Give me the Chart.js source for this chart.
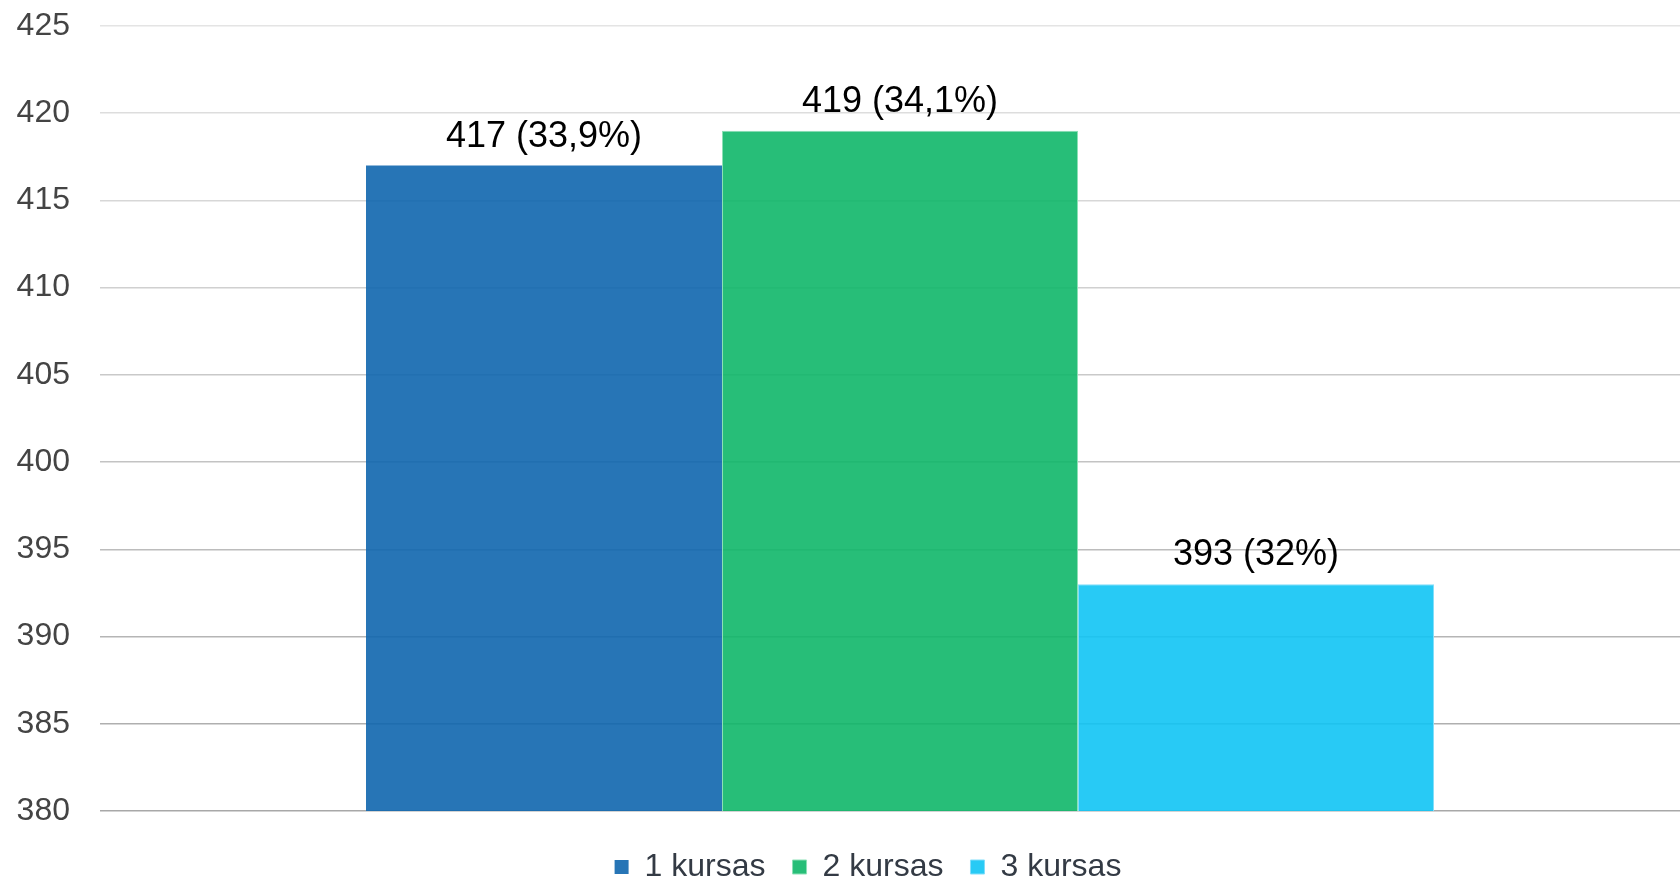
<!DOCTYPE html>
<html>
<head>
<meta charset="utf-8">
<script src="https://cdn.jsdelivr.net/npm/chart.js@4.4.1/dist/chart.umd.min.js"></script>
<style>
  html, body { margin: 0; padding: 0; background: #ffffff; overflow: hidden; }
  #wrap { width: 1680px; height: 880px; position: relative; overflow: hidden; }
  canvas { display: block; }
</style>
</head>
<body>
<div id="wrap"><canvas id="c" width="1700" height="880"></canvas></div>
<script>
const categories = [''];
const seriesNames = ['1 kursas', '2 kursas', '3 kursas'];
const seriesValues = [417, 419, 393];
const seriesPercents = ['33,9%', '34,1%', '32%'];
const yTicks = [380, 385, 390, 395, 400, 405, 410, 415, 420, 425];

const fills = ['rgba(15,102,174,0.9)', 'rgba(15,183,105,0.9)', 'rgba(17,196,244,0.9)'];
const borders = ['rgba(15,102,174,0.9)', 'rgba(140,224,182,1)', 'rgba(130,222,250,1)'];

const datasets = seriesNames.map((name, i) => ({
  label: name,
  data: [seriesValues[i]],
  backgroundColor: fills[i],
  borderColor: borders[i],
  borderWidth: i === 0 ? 0 : 1,
  categoryPercentage: 0.6675,
  barPercentage: 1.0
}));

const labelPlugin = {
  id: 'barLabels',
  afterLayout(chart) {
    if (chart.legend) { chart.legend.left += 36; }
  },
  afterDatasetsDraw(chart) {
    const ctx = chart.ctx;
    ctx.save();
    ctx.font = '36px "Liberation Sans", Arial, sans-serif';
    ctx.fillStyle = '#000000';
    ctx.textAlign = 'center';
    ctx.textBaseline = 'alphabetic';
    chart.data.datasets.forEach((ds, i) => {
      const meta = chart.getDatasetMeta(i);
      meta.data.forEach((bar) => {
        ctx.fillText(seriesValues[i] + ' (' + seriesPercents[i] + ')', bar.x, bar.y - 19);
      });
    });
    ctx.restore();
  }
};

function gridColor(ctx) {
  const idx = ctx.index || 0;
  const n = yTicks.length - 1;
  const t = idx / n;
  const v = Math.round(168 + (228 - 168) * t);
  return 'rgb(' + v + ',' + v + ',' + v + ')';
}

new Chart(document.getElementById('c'), {
  type: 'bar',
  data: { labels: categories, datasets: datasets },
  plugins: [labelPlugin],
  options: {
    responsive: false,
    animation: false,
    layout: { padding: { left: 0, right: 0, top: 26, bottom: -13 } },
    scales: {
      x: {
        display: true,
        grid: { display: false },
        border: { display: false },
        ticks: { display: false },
        afterFit(scale) { scale.height = 13; }
      },
      y: {
        min: 380,
        max: 425,
        afterBuildTicks(scale) { scale.ticks = yTicks.map(v => ({ value: v })); },
        afterFit(scale) { scale.width = 100; },
        border: { display: false },
        grid: { color: gridColor, lineWidth: 1.5, drawTicks: true, tickLength: 30, tickColor: 'rgba(0,0,0,0)' },
        ticks: {
          padding: 0,
          color: '#444444',
          font: { family: '"Liberation Sans", Arial, sans-serif', size: 32 }
        }
      }
    },
    plugins: {
      legend: {
        position: 'bottom',
        labels: {
          boxWidth: 14,
          boxHeight: 14,
          padding: 27,
          color: '#333a44',
          font: { family: '"Liberation Sans", Arial, sans-serif', size: 32 }
        }
      },
      tooltip: { enabled: false }
    }
  }
});
</script>
</body>
</html>
